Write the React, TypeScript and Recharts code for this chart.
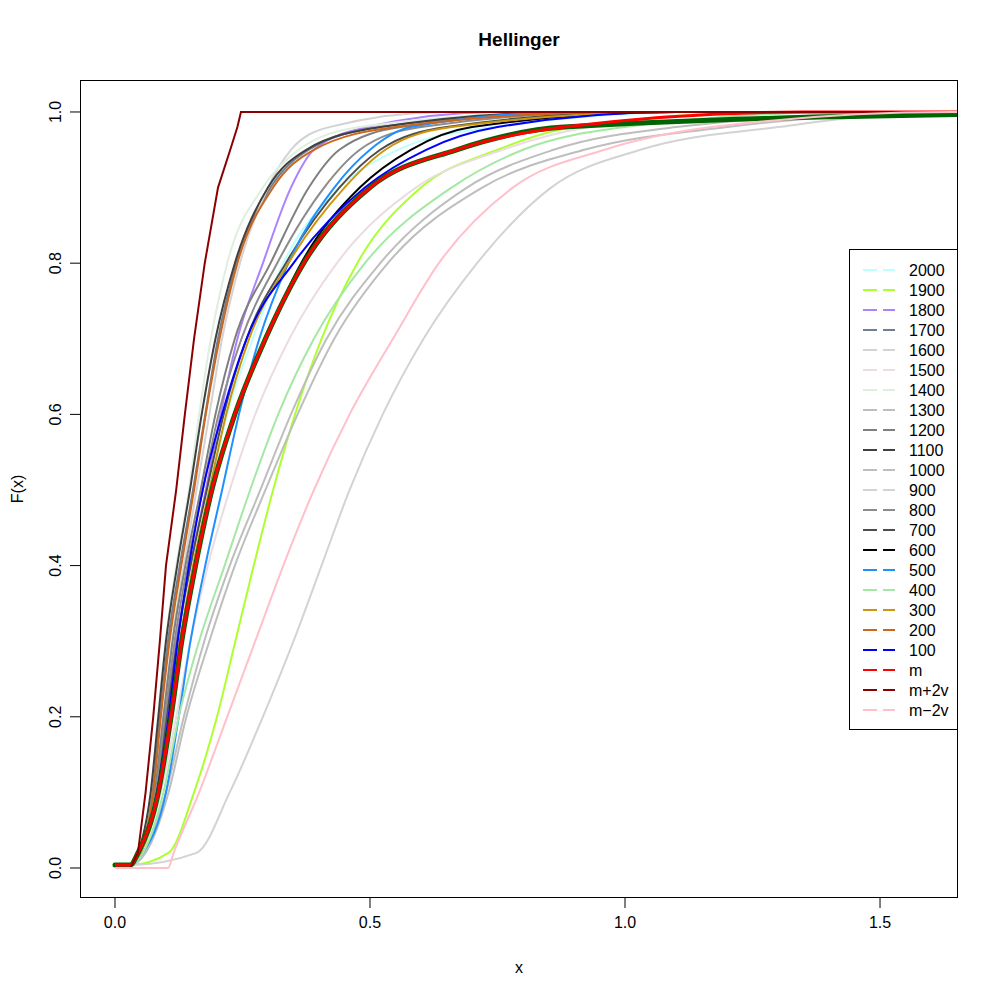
import React from 'react';
import { LineChart, Line, XAxis, YAxis } from 'recharts';

const LEVELS = [0.004, 0.02, 0.1, 0.2, 0.3, 0.4, 0.5, 0.6, 0.7, 0.8, 0.9, 0.95, 0.98, 1];
const BAND_LEVELS = [0, 0.02, 0.1, 0.2, 0.3, 0.4, 0.5, 0.6, 0.7, 0.8, 0.9, 0.95, 0.98, 1];
const REF_LEVELS = [0.004, 0.02, 0.1, 0.2, 0.3, 0.4, 0.5, 0.6, 0.7, 0.8, 0.9, 0.95, 0.98, 0.997];

// x values of each curve at those F levels
const x2000 = [0.03, 0.05, 0.087, 0.107, 0.128, 0.155, 0.186, 0.22, 0.27, 0.33, 0.44, 0.555, 0.74, 1.15];
const x1900 = [0.03, 0.105, 0.155, 0.2, 0.236, 0.272, 0.31, 0.353, 0.405, 0.475, 0.6, 0.75, 0.9, 1.3];
const x1800 = [0.03, 0.048, 0.08, 0.1, 0.12, 0.148, 0.178, 0.207, 0.24, 0.29, 0.345, 0.39, 0.494, 0.75];
const x1700 = [0.03, 0.045, 0.072, 0.088, 0.104, 0.127, 0.153, 0.177, 0.202, 0.238, 0.305, 0.38, 0.52, 0.95];
const x1600 = [0.03, 0.05, 0.078, 0.095, 0.112, 0.135, 0.16, 0.185, 0.21, 0.245, 0.3, 0.345, 0.42, 0.65];
const x1500 = [0.03, 0.05, 0.09, 0.12, 0.148, 0.182, 0.225, 0.275, 0.342, 0.435, 0.59, 0.76, 0.93, 1.3];
const x1400 = [0.03, 0.045, 0.07, 0.084, 0.099, 0.12, 0.145, 0.165, 0.188, 0.22, 0.29, 0.36, 0.48, 0.9];
const x1300 = [0.03, 0.06, 0.105, 0.14, 0.185, 0.235, 0.295, 0.358, 0.43, 0.535, 0.72, 0.92, 1.2, 1.65];
const x1200 = [0.03, 0.047, 0.078, 0.095, 0.113, 0.138, 0.168, 0.197, 0.235, 0.305, 0.38, 0.44, 0.56, 0.95];
const x1100 = [0.03, 0.045, 0.07, 0.085, 0.1, 0.122, 0.147, 0.17, 0.197, 0.235, 0.3, 0.375, 0.52, 0.9];
const x1000 = [0.03, 0.055, 0.1, 0.135, 0.175, 0.225, 0.285, 0.345, 0.415, 0.52, 0.69, 0.86, 1.1, 1.6];
const x900 = [0.03, 0.16, 0.225, 0.29, 0.35, 0.405, 0.46, 0.525, 0.605, 0.71, 0.855, 1.03, 1.3, 1.62];
const x800 = [0.03, 0.048, 0.08, 0.098, 0.117, 0.142, 0.172, 0.203, 0.248, 0.318, 0.41, 0.48, 0.6, 1.0];
const x700 = [0.03, 0.05, 0.083, 0.102, 0.122, 0.148, 0.18, 0.213, 0.258, 0.335, 0.44, 0.52, 0.65, 1.05];
const x600 = [0.03, 0.045, 0.085, 0.11, 0.13, 0.157, 0.19, 0.235, 0.295, 0.365, 0.48, 0.58, 0.7, 1.1];
const x500 = [0.03, 0.055, 0.1, 0.125, 0.148, 0.177, 0.21, 0.243, 0.283, 0.34, 0.43, 0.5, 0.58, 0.9];
const x400 = [0.03, 0.055, 0.095, 0.125, 0.165, 0.215, 0.265, 0.32, 0.39, 0.49, 0.66, 0.8, 1.0, 1.45];
const x300 = [0.03, 0.05, 0.085, 0.105, 0.127, 0.153, 0.185, 0.218, 0.263, 0.34, 0.45, 0.53, 0.66, 1.1];
const x200 = [0.03, 0.045, 0.075, 0.09, 0.107, 0.13, 0.155, 0.178, 0.205, 0.24, 0.31, 0.39, 0.55, 1.0];
const x100 = [0.03, 0.048, 0.082, 0.105, 0.123, 0.145, 0.172, 0.21, 0.258, 0.35, 0.49, 0.61, 0.75, 1.1];
const xM = [0.03, 0.045, 0.085, 0.11, 0.131, 0.158, 0.19, 0.235, 0.295, 0.37, 0.5, 0.67, 0.88, 1.35];
const xMplus2v = [0.03, 0.045, 0.06, 0.075, 0.088, 0.1, 0.12, 0.137, 0.155, 0.176, 0.202, 0.226, 0.24, 0.247];
const xMminus2v = [0.104, 0.115, 0.165, 0.22, 0.275, 0.33, 0.39, 0.46, 0.545, 0.635, 0.78, 0.96, 1.17, 1.64];
const xRef = [0.03, 0.045, 0.085, 0.11, 0.131, 0.158, 0.19, 0.235, 0.295, 0.37, 0.5, 0.67, 0.88, 1.7];

const LEGEND_LABELS = ['2000', '1900', '1800', '1700', '1600', '1500', '1400', '1300', '1200', '1100', '1000',
  '900', '800', '700', '600', '500', '400', '300', '200', '100', 'm', 'm+2v', 'm\u22122v'];
const LEGEND_COLORS = ['#BBFFFF', '#ADFF2F', '#AB82FF', '#708090', '#D3D3D3', '#EBDCE2', '#E0EEE0', '#BEBEBE',
  '#7F7F7F', '#404040', '#BEBEBE', '#D3D3D3', '#8C8C8C', '#4D4D4D', '#000000', '#1E90FF', '#A4E8A4', '#CD950C',
  '#CD661D', '#0000FF', '#FF0000', '#8B0000', '#FFC0CB'];

const X_TICKS = [0, 0.5, 1, 1.5];
const Y_TICKS = [0, 0.2, 0.4, 0.6, 0.8, 1];

const XMIN = -0.0686, XMAX = 1.6529, YMIN = -0.0397, YMAX = 1.0423;
const W = 992, H = 992;
const FONT = '"Liberation Sans", Arial, Helvetica, sans-serif';

type Pt = { x: number; y: number };
function build(xs: number[], levels: number[], endF: number): Pt[] {
  const pts: Pt[] = [{ x: 0, y: levels[0] }];
  xs.forEach((x, i) => pts.push({ x, y: levels[i] }));
  if (xs[xs.length - 1] < 1.7) pts.push({ x: 1.7, y: endF });
  return pts;
}

const sampleXs = [x2000, x1900, x1800, x1700, x1600, x1500, x1400, x1300, x1200, x1100, x1000,
  x900, x800, x700, x600, x500, x400, x300, x200, x100];

const SAMPLE_SERIES = sampleXs.map((xs, i) => ({
  name: LEGEND_LABELS[i],
  color: LEGEND_COLORS[i],
  data: build(xs, LEVELS, 1),
}));

const REF_DATA = build(xRef, REF_LEVELS, 0.997);
const M_DATA = build(xM, LEVELS, 1);
const MPLUS_DATA = build(xMplus2v, BAND_LEVELS, 1);
const MMINUS_DATA = build(xMminus2v, BAND_LEVELS, 1);

const YTick = (props: any) => {
  const { x, y, payload } = props;
  return (
    <text x={x} y={y} transform={`rotate(-90 ${x} ${y})`} textAnchor="middle" fontSize={16}
      fontFamily={FONT} fill="#000">
      {Number(payload.value).toFixed(1)}
    </text>
  );
};

export default function App() {
  return (
    <div style={{ position: 'relative', width: W, height: H, fontFamily: FONT, background: '#fff' }}>
      <LineChart width={W} height={H} margin={{ top: 72, right: 42, bottom: 52, left: 22 }}>
        <XAxis type="number" dataKey="x" domain={[XMIN, XMAX]} allowDataOverflow ticks={X_TICKS}
          tickFormatter={(v: number) => v.toFixed(1)} axisLine={false} tickLine={{ stroke: '#000' }}
          tickSize={10} tickMargin={9} height={50} interval={0}
          tick={{ fill: '#000', fontSize: 16, fontFamily: FONT }} />
        <YAxis type="number" domain={[YMIN, YMAX]} allowDataOverflow ticks={Y_TICKS} width={50}
          axisLine={false} tickLine={{ stroke: '#000' }} tickSize={10} tickMargin={9} interval={0}
          tick={<YTick />} />
        {SAMPLE_SERIES.map((s) => (
          <Line key={s.name} data={s.data} dataKey="y" name={s.name} stroke={s.color} strokeWidth={2}
            dot={false} activeDot={false} isAnimationActive={false} type="monotoneX" />
        ))}
        <Line data={REF_DATA} dataKey="y" name="ref" stroke="#006400" strokeWidth={5} dot={false}
          activeDot={false} isAnimationActive={false} type="monotoneX" strokeLinecap="round" />
        <Line data={M_DATA} dataKey="y" name="m" stroke="#FF0000" strokeWidth={3} dot={false}
          activeDot={false} isAnimationActive={false} type="monotoneX" />
        <Line data={MPLUS_DATA} dataKey="y" name="m+2v" stroke="#8B0000" strokeWidth={2} dot={false}
          activeDot={false} isAnimationActive={false} type="linear" />
        <Line data={MMINUS_DATA} dataKey="y" name="m-2v" stroke="#FFC0CB" strokeWidth={2} dot={false}
          activeDot={false} isAnimationActive={false} type="monotoneX" />
      </LineChart>
      <svg width={W} height={H} style={{ position: 'absolute', left: 0, top: 0, pointerEvents: 'none' }}>
        <rect x={72.5} y={72.5} width={877} height={817} fill="none" stroke="#000" strokeWidth={1} />
        <text x={511} y={38} textAnchor="middle" fontSize={19} fontWeight="bold" fontFamily={FONT} fill="#000">
          Hellinger
        </text>
        <text x={511} y={965} textAnchor="middle" fontSize={16} fontFamily={FONT} fill="#000">x</text>
        <text x={15} y={481} textAnchor="middle" fontSize={16} fontFamily={FONT} fill="#000"
          transform="rotate(-90 15 481)">F(x)</text>
        <g>
          <rect x={841.5} y={241.5} width={108} height={480} fill="#fff" stroke="#000" strokeWidth={1} />
          {LEGEND_LABELS.map((lab, i) => {
            const cy = 262 + 20 * i;
            return (
              <g key={lab}>
                <line x1={855} x2={887} y1={cy} y2={cy} stroke={LEGEND_COLORS[i]} strokeWidth={2}
                  strokeDasharray="14 6" />
                <text x={901} y={cy + 6} fontSize={16} fontFamily={FONT} fill="#000">{lab}</text>
              </g>
            );
          })}
        </g>
      </svg>
    </div>
  );
}
